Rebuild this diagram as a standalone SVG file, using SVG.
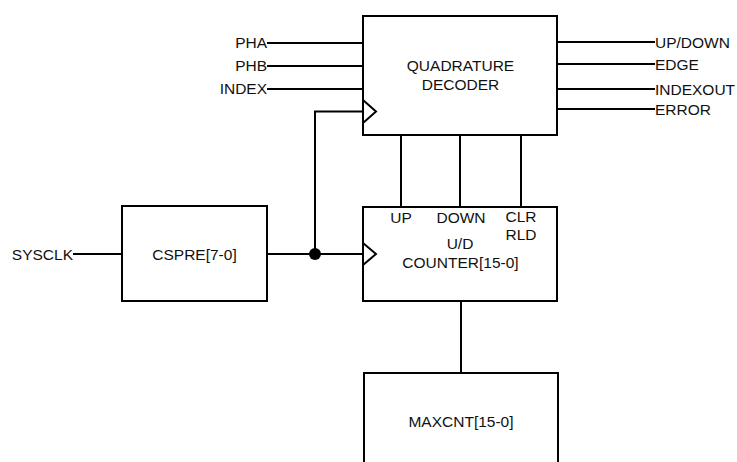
<svg xmlns="http://www.w3.org/2000/svg" width="737" height="462" viewBox="0 0 737 462">
<style>
.box{fill:#fff;stroke:#000;stroke-width:2}
.w{fill:none;stroke:#000;stroke-width:2}
text{font-family:"Liberation Sans",Arial,sans-serif;font-size:15.5px;fill:#111}
.m{text-anchor:middle}
.e{text-anchor:end}
</style>
<rect width="737" height="462" fill="#fff"/>
<g id="connectors">
<path class="w" d="M267 43H363M267 66H363M267 89H363"/>
<path class="w" d="M557 42H655M557 64H655M557 89H655M557 109H655"/>
<path class="w" d="M73 254H122M267 254H363M315 254V111.5H363"/>
<path class="w" d="M401 135V207M460 135V207M521 135V207"/>
<path class="w" d="M461 301V373"/>
<circle cx="315" cy="254" r="6" fill="#000"/>
</g>
<g id="decoder">
<rect class="box" x="363" y="16" width="194" height="119"/>
<path class="w" d="M363 100L376 111.5L363 123"/>
<text class="m" x="460.5" y="70.5">QUADRATURE</text>
<text class="m" x="460.5" y="89.5">DECODER</text>
</g>
<g id="counter">
<rect class="box" x="363" y="207" width="194" height="94"/>
<path class="w" d="M363 243L376 254L363 265"/>
<text class="m" x="401" y="223">UP</text>
<text class="m" x="461" y="223">DOWN</text>
<text class="m" x="521" y="222">CLR</text>
<text class="m" x="521" y="240">RLD</text>
<text class="m" x="460" y="249">U/D</text>
<text class="m" x="460.5" y="268">COUNTER[15-0]</text>
</g>
<g id="cspre">
<rect class="box" x="122" y="206" width="145" height="95"/>
<text class="m" x="194.5" y="259.5">CSPRE[7-0]</text>
</g>
<g id="maxcnt">
<rect class="box" x="364" y="373" width="194" height="100"/>
<text class="m" x="461" y="427">MAXCNT[15-0]</text>
</g>
<g id="labels">
<text class="e" x="267" y="48">PHA</text>
<text class="e" x="267" y="71">PHB</text>
<text class="e" x="267" y="94">INDEX</text>
<text x="655" y="47.5">UP/DOWN</text>
<text x="655" y="69.5">EDGE</text>
<text x="655" y="94.5">INDEXOUT</text>
<text x="655" y="114.5">ERROR</text>
<text class="e" x="73" y="259.5">SYSCLK</text>
</g>
</svg>
